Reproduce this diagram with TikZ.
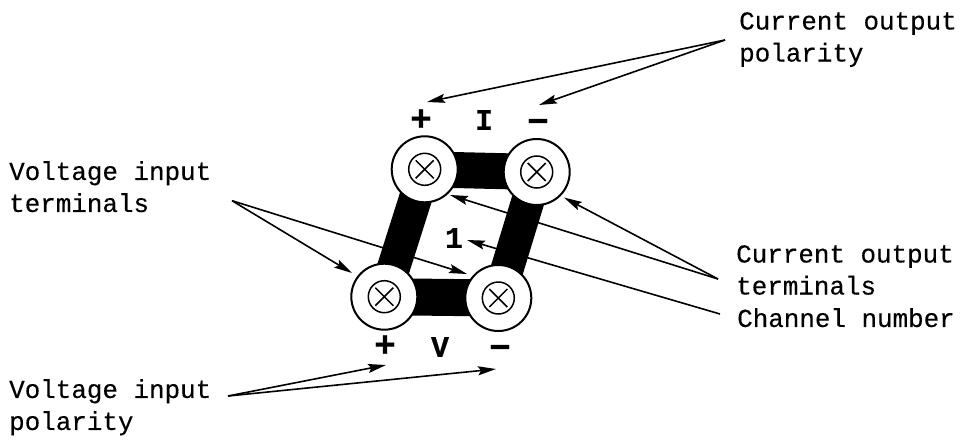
\documentclass[tikz,border=0pt]{standalone}
\usepackage{fontspec}
\setmonofont[FakeBold=0.3]{Liberation Mono}
\usepackage{tikz}
\usetikzlibrary{arrows.meta,backgrounds}
\newcommand{\lblfont}{\ttfamily\fontsize{25.9}{32}\selectfont}
\newcommand{\signfont}{\ttfamily\bfseries\fontsize{30}{30}\selectfont}
\newcommand{\polfont}{\ttfamily\bfseries\fontsize{36}{36}\selectfont}

\begin{document}
\begin{tikzpicture}[
  x=1pt,y=-1pt,
  terminal/.style={draw,circle,line width=2pt,fill=white,inner sep=0pt,minimum size=66pt},
  screw/.style={draw,circle,line width=1.5pt,inner sep=0pt,minimum size=32pt,
    path picture={\draw[line width=1.5pt]
      ([shift={(-9pt,-9pt)}]path picture bounding box.center)--([shift={(9pt,9pt)}]path picture bounding box.center)
      ([shift={(-9pt,9pt)}]path picture bounding box.center)--([shift={(9pt,-9pt)}]path picture bounding box.center);}},
  bar/.style={line width=#1},
  lbl/.style={align=left,anchor=north west,inner sep=0pt,font=\lblfont},
  sign/.style={inner sep=0pt,font=\signfont},
  pol/.style={inner sep=0pt,font=\polfont},
  arr/.style={-{Stealth[length=18pt,width=9pt,inset=3pt]},line width=1.6pt}
]
\useasboundingbox (0,0) rectangle (968,439);
% terminals
\node[terminal] (tl) at (424.7,169.3) {};
\node[terminal] (tr) at (536.7,172) {};
\node[terminal] (bl) at (384.3,296.7) {};
\node[terminal] (br) at (498.3,298) {};
\node[screw] (tlx) at (tl.center) {};
\node[screw] (trx) at (tr.center) {};
\node[screw] (blx) at (bl.center) {};
\node[screw] (brx) at (br.center) {};
% polarity signs
\node[pol] (ip) at (421,120) {+};
\node[sign] (ii) at (484,120) {I};
\node[pol] (im) at (538,126) {−};
\node[pol] (vp) at (385,346) {+};
\node[sign] (vv) at (440,347) {V};
\node[pol] (vm) at (500,352) {−};
\node[sign] (chan) at (454,238) {1};
% labels
\node[lbl] (curpol) at (739,12) {Current output\\polarity};
\node[lbl] (curterm) at (736,245) {Current output\\terminals};
\node[lbl] (channo) at (737,308) {Channel number};
\node[lbl] (voltterm) at (9,161) {Voltage input\\terminals};
\node[lbl] (voltpol) at (9,379) {Voltage input\\polarity};
% arrow ends
\coordinate (curpolhub) at (725,40);
\coordinate (curtermhub) at (718,279);
\coordinate (channohub) at (720,314);
\coordinate (volttermhub) at (232,200.7);
\coordinate (voltpolhub) at (228,396);
\coordinate (tipip) at (427,102);
\coordinate (tipim) at (539,105);
\coordinate (tiptl) at (450,195);
\coordinate (tiptr) at (564,197.6);
\coordinate (tipchan) at (467,240);
\coordinate (tipbl) at (352,273);
\coordinate (tipbr) at (467,274);
\coordinate (tipvp) at (386,365);
\coordinate (tipvm) at (496,369);
\begin{scope}[on background layer]
\draw[bar=36pt] (tl.center)--(tr.center);
\draw[bar=37pt] (bl.center)--(br.center);
\draw[arr] (curtermhub)--(tiptl);
\draw[arr] (channohub)--(tipchan);
\draw[arr] (volttermhub)--(tipbr);
\draw[bar=33pt] (tl.center)--(bl.center);
\draw[bar=33pt] (tr.center)--(br.center);
\end{scope}
\draw[arr] (curpolhub)--(tipip);
\draw[arr] (curpolhub)--(tipim);
\draw[arr] (curtermhub)--(tiptr);
\draw[arr] (volttermhub)--(tipbl);
\draw[arr] (voltpolhub)--(tipvp);
\draw[arr] (voltpolhub)--(tipvm);
\end{tikzpicture}
\end{document}
